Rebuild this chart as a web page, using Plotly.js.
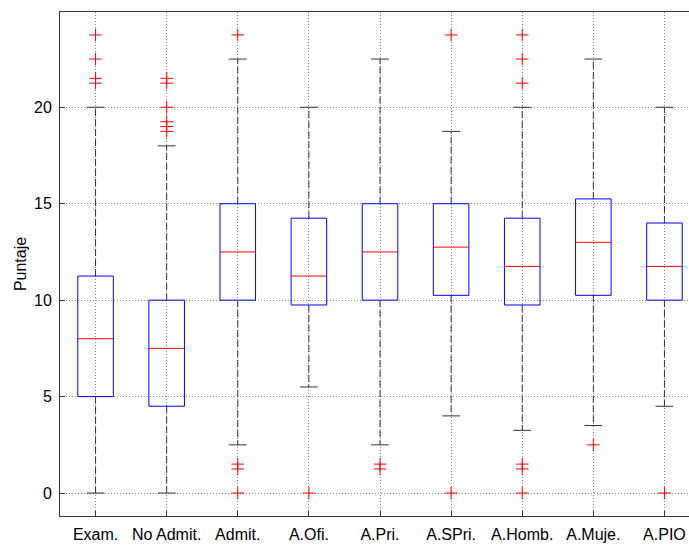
<!DOCTYPE html>
<html>
<head>
<meta charset="utf-8">
<script src="https://cdn.plot.ly/plotly-3.0.1.min.js"></script>
<style>
html, body { margin: 0; padding: 0; overflow: hidden; background: #fff; }
#chart { width: 700px; height: 546px; }
</style>
</head>
<body>
<div id="chart"></div>
<script>
// ---- data ----
const categories = ["Exam.", "No Admit.", "Admit.", "A.Ofi.", "A.Pri.", "A.SPri.", "A.Homb.", "A.Muje.", "A.PIO"];
const q1        = [5,    4.5,  10,   9.75,  10,   10.25, 9.75,  10.25, 10];
const medians   = [8,    7.5,  12.5, 11.25, 12.5, 12.75, 11.75, 13,    11.75];
const q3        = [11.25,10,   15,   14.25, 15,   15,    14.25, 15.25, 14];
const whiskLow  = [0,    0,    2.5,  5.5,   2.5,  4,     3.25,  3.5,   4.5];
const whiskHigh = [20,   18,   22.5, 20,    22.5, 18.75, 20,    22.5,  20];
const outliers  = [
  [21.25, 21.5, 22.5, 23.75],
  [18.75, 19, 19.25, 20, 21.25, 21.5],
  [0, 1.25, 1.5, 23.75],
  [0],
  [1.25, 1.5],
  [0, 23.75],
  [0, 1.25, 1.5, 21.25, 22.5, 23.75],
  [2.5],
  [0]
];
const yTicks = [0, 5, 10, 15, 20];

// ---- build traces ----
const boxHalf = 0.25, capHalf = 0.125;
const wx = [], wy = [], cx = [], cy = [], bx = [], by = [], mx = [], my = [], ox = [], oy = [];
categories.forEach((c, i) => {
  const p = i + 1;
  wx.push(p, p, null, p, p, null);
  wy.push(q3[i], whiskHigh[i], null, q1[i], whiskLow[i], null);
  cx.push(p - capHalf, p + capHalf, null, p - capHalf, p + capHalf, null);
  cy.push(whiskHigh[i], whiskHigh[i], null, whiskLow[i], whiskLow[i], null);
  bx.push(p - boxHalf, p + boxHalf, p + boxHalf, p - boxHalf, p - boxHalf, null);
  by.push(q1[i], q1[i], q3[i], q3[i], q1[i], null);
  mx.push(p - boxHalf, p + boxHalf, null);
  my.push(medians[i], medians[i], null);
  outliers[i].forEach(v => { ox.push(p); oy.push(v); });
});

const traces = [
  {x: wx, y: wy, mode: 'lines', line: {color: '#333', width: 1, dash: '7px,3px'}, hoverinfo: 'skip'},
  {x: cx, y: cy, mode: 'lines', line: {color: '#333', width: 1}, hoverinfo: 'skip'},
  {x: bx, y: by, mode: 'lines', line: {color: '#0000ff', width: 1}, hoverinfo: 'skip'},
  {x: mx, y: my, mode: 'lines', line: {color: '#ff0000', width: 1}, hoverinfo: 'skip'},
  {x: ox, y: oy, mode: 'markers', marker: {symbol: 'cross-thin', size: 9, color: '#ff0000', line: {color: '#ff0000', width: 1}}, hoverinfo: 'skip'}
];

const font = {family: '"Liberation Sans", Arial, Helvetica, sans-serif', size: 16, color: '#000'};

const layout = {
  width: 700, height: 546,
  margin: {l: 60, r: 0, t: 12, b: 30},
  paper_bgcolor: '#fff', plot_bgcolor: '#fff',
  showlegend: false,
  font: font,
  xaxis: {
    range: [0.5, 9.5],
    tickmode: 'array',
    tickvals: categories.map((c, i) => i + 1),
    ticktext: categories,
    showgrid: true, gridcolor: '#888', griddash: '1px,2px', gridwidth: 1,
    zeroline: false,
    showline: true, linecolor: '#333', linewidth: 1, mirror: true,
    ticks: 'inside', ticklen: 5, tickcolor: '#333',
    tickfont: font,
    ticklabelstandoff: 4,
    automargin: false
  },
  yaxis: {
    range: [-1.19, 24.94],
    tickmode: 'array',
    tickvals: yTicks,
    ticktext: yTicks.map(String),
    showgrid: true, gridcolor: '#888', griddash: '1px,2px', gridwidth: 1,
    zeroline: false,
    showline: true, linecolor: '#333', linewidth: 1, mirror: true,
    ticks: 'inside', ticklen: 5, tickcolor: '#333',
    tickfont: font,
    ticklabelstandoff: 4,
    title: {text: 'Puntaje', font: font, standoff: 3},
    automargin: false
  }
};

Plotly.newPlot('chart', traces, layout, {staticPlot: true, displayModeBar: false});
</script>
</body>
</html>
